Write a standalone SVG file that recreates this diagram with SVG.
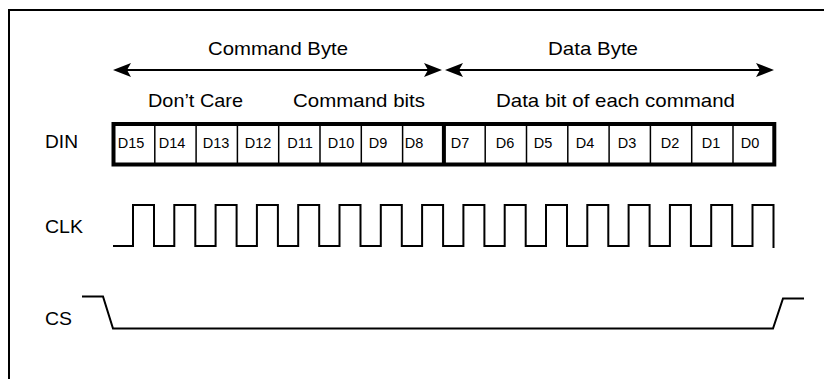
<svg xmlns="http://www.w3.org/2000/svg" width="824" height="379" viewBox="0 0 824 379">
  <style>
    .ln { fill: none; stroke: #000; stroke-width: 2; stroke-linejoin: miter; stroke-linecap: butt; }
    .t { font-family: "Liberation Sans", Arial, sans-serif; fill: #000; }
    .hd { font-size: 19px; }
    .sig { font-size: 19px; }
    .cell { font-size: 14.5px; text-anchor: middle; }
    .div { stroke: #000; stroke-width: 1.5; }
  </style>
  <defs>
    <marker id="ah" viewBox="0 0 18 14" markerUnits="userSpaceOnUse" markerWidth="18" markerHeight="14" refX="10" refY="7" orient="auto-start-reverse">
      <path d="M0,0 L18,7 L0,14 L4,7 Z" fill="#000"/>
    </marker>
  </defs>
  <rect width="824" height="379" fill="#fff"/>

  <g id="frame">
    <path class="ln" d="M9,379 V10 H824"/>
  </g>

  <g id="labels">
    <text class="t hd" x="208" y="55" textLength="140" lengthAdjust="spacingAndGlyphs">Command Byte</text>
    <text class="t hd" x="548" y="55" textLength="90" lengthAdjust="spacingAndGlyphs">Data Byte</text>
    <text class="t hd" x="148" y="107" textLength="95" lengthAdjust="spacingAndGlyphs">Don’t Care</text>
    <text class="t hd" x="293" y="107" textLength="132" lengthAdjust="spacingAndGlyphs">Command bits</text>
    <text class="t hd" x="496" y="107" textLength="239" lengthAdjust="spacingAndGlyphs">Data bit of each command</text>
  </g>

  <g id="din">
    <text class="t sig" x="45" y="148" textLength="33" lengthAdjust="spacingAndGlyphs">DIN</text>
    <rect x="113.5" y="124" width="660.8" height="40.5" fill="#fff" stroke="#000" stroke-width="4"/>
    <g class="div">
      <line x1="154.8" y1="124" x2="154.8" y2="164.5"/>
      <line x1="196.1" y1="124" x2="196.1" y2="164.5"/>
      <line x1="237.4" y1="124" x2="237.4" y2="164.5"/>
      <line x1="278.7" y1="124" x2="278.7" y2="164.5"/>
      <line x1="320" y1="124" x2="320" y2="164.5"/>
      <line x1="361.3" y1="124" x2="361.3" y2="164.5"/>
      <line x1="402.6" y1="124" x2="402.6" y2="164.5"/>
      <line x1="485.2" y1="124" x2="485.2" y2="164.5"/>
      <line x1="526.5" y1="124" x2="526.5" y2="164.5"/>
      <line x1="567.8" y1="124" x2="567.8" y2="164.5"/>
      <line x1="609.1" y1="124" x2="609.1" y2="164.5"/>
      <line x1="650.4" y1="124" x2="650.4" y2="164.5"/>
      <line x1="691.7" y1="124" x2="691.7" y2="164.5"/>
      <line x1="733" y1="124" x2="733" y2="164.5"/>
    </g>
    <line x1="443.9" y1="124" x2="443.9" y2="164.5" stroke="#000" stroke-width="4"/>
    <text class="t cell" x="131" y="147.5">D15</text>
    <text class="t cell" x="172" y="147.5">D14</text>
    <text class="t cell" x="216" y="147.5">D13</text>
    <text class="t cell" x="258" y="147.5">D12</text>
    <text class="t cell" x="300" y="147.5">D11</text>
    <text class="t cell" x="341" y="147.5">D10</text>
    <text class="t cell" x="378" y="147.5">D9</text>
    <text class="t cell" x="414" y="147.5">D8</text>
    <text class="t cell" x="460" y="147.5">D7</text>
    <text class="t cell" x="505" y="147.5">D6</text>
    <text class="t cell" x="543" y="147.5">D5</text>
    <text class="t cell" x="585" y="147.5">D4</text>
    <text class="t cell" x="627" y="147.5">D3</text>
    <text class="t cell" x="670" y="147.5">D2</text>
    <text class="t cell" x="711" y="147.5">D1</text>
    <text class="t cell" x="750" y="147.5">D0</text>
  </g>

  <g id="clk">
    <text class="t sig" x="45" y="233" textLength="38" lengthAdjust="spacingAndGlyphs">CLK</text>
    <path class="ln" d="M113,246 H133 V205 H154 V246 H174.3 V205 H195.3 V246 H215.6 V205 H236.6 V246 H256.9 V205 H277.9 V246 H298.2 V205 H319.2 V246 H339.5 V205 H360.5 V246 H380.8 V205 H401.8 V246 H422.1 V205 H443.1 V246 H463.4 V205 H484.4 V246 H504.7 V205 H525.7 V246 H546 V205 H567 V246 H587.3 V205 H608.3 V246 H628.6 V205 H649.6 V246 H669.9 V205 H690.9 V246 H711.2 V205 H732.2 V246 H752.5 V205 H773.5 V248"/>
  </g>

  <g id="cs">
    <text class="t sig" x="45" y="325" textLength="27" lengthAdjust="spacingAndGlyphs">CS</text>
    <path class="ln" d="M82,296.5 H103 L113,328.5 H773 L783,298.5 H804"/>
  </g>

  <g id="connectors">
    <line class="ln" x1="121" y1="70" x2="434" y2="70" marker-start="url(#ah)" marker-end="url(#ah)"/>
    <line class="ln" x1="453" y1="70" x2="766" y2="70" marker-start="url(#ah)" marker-end="url(#ah)"/>
  </g>
</svg>
